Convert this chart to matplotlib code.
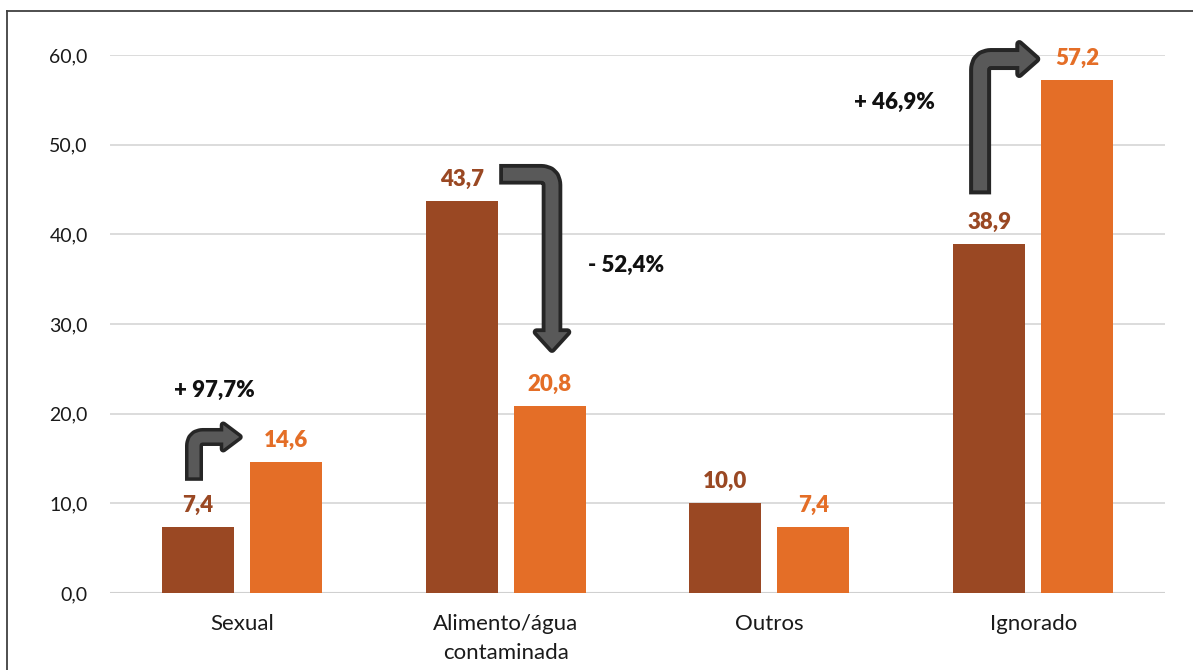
import numpy as np
import matplotlib
matplotlib.use("Agg")
import matplotlib.pyplot as plt
from matplotlib.path import Path
from matplotlib.patches import PathPatch, Polygon
from matplotlib.transforms import IdentityTransform
from matplotlib.lines import Line2D

plt.rcParams['font.family'] = ['Lato', 'DejaVu Sans']

categories = ["Sexual", "Alimento/água\ncontaminada", "Outros", "Ignorado"]
series_a = [7.4, 43.7, 10.0, 38.9]
series_b = [14.6, 20.8, 7.4, 57.2]
changes = ["+ 97,7%", "- 52,4%", "+ 0,0%", "+ 46,9%"]
yticks = [0, 10, 20, 30, 40, 50, 60]

C_A = "#9A4823"
C_B = "#E46E27"
DARK = "#262626"
GREY = "#595959"

W, H = 1193, 670
fig = plt.figure(figsize=(W / 100, H / 100), dpi=100)
ax = fig.add_axes([110 / W, 1 - 593 / H, 1055 / W, 538 / H])
ax.set_xlim(-0.5, 3.5)
ax.set_ylim(0, 60)

x = np.arange(len(categories))
bw = 0.273
off = 0.167
ax.bar(x - off, series_a, bw, color=C_A, zorder=3)
ax.bar(x + off, series_b, bw, color=C_B, zorder=3)

fmt = lambda v: f"{v:.1f}".replace(".", ",")
for xi, v in zip(x, series_a):
    ax.annotate(fmt(v), (xi - off, v), xytext=(0, 8), textcoords="offset points",
                ha="center", va="bottom", color=C_A, fontsize=16, fontweight="heavy")
for xi, v in zip(x, series_b):
    ax.annotate(fmt(v), (xi + off, v), xytext=(0, 8), textcoords="offset points",
                ha="center", va="bottom", color=C_B, fontsize=16, fontweight="heavy")

ax.set_yticks(yticks)
ax.set_yticklabels([fmt(t) for t in yticks], fontsize=14, color="#1a1a1a")
ax.set_xticks(x)
ax.set_xticklabels(categories, fontsize=16, color="#1a1a1a", linespacing=1.55)
ax.tick_params(axis="y", length=0, pad=16)
ax.tick_params(axis="x", length=0, pad=15)
ax.grid(axis="y", color="#d9d9d9", linewidth=1.3, zorder=0)
for s in ax.spines.values():
    s.set_visible(False)
ax.axhline(0, color="#d0d0d0", linewidth=1.5, zorder=2)


def bent_arrow(start, corner, tip, shaft, head_w, head_l, radius=10, outline=3.5):
    tr = ax.transData
    S, C, T = [np.array(tr.transform(p)) for p in (start, corner, tip)]
    d1 = (C - S) / np.linalg.norm(C - S)
    d2 = (T - C) / np.linalg.norm(T - C)
    E = T - d2 * head_l
    P1 = C - d1 * radius
    P2 = C + d2 * radius
    codes = [Path.MOVETO, Path.LINETO, Path.CURVE3, Path.CURVE3, Path.LINETO]
    p_dark = Path([S - d1 * outline, P1, C, P2, E + d2 * 1], codes)
    p_fill = Path([S, P1, C, P2, E + d2 * 2], codes)
    perp = np.array([-d2[1], d2[0]])
    head = [E + perp * head_w / 2, T, E - perp * head_w / 2]
    k = 72 / fig.dpi
    it = IdentityTransform()
    fig.add_artist(PathPatch(p_dark, fill=False, lw=(shaft + 2 * outline) * k, ec=DARK,
                             capstyle="butt", joinstyle="round", transform=it, zorder=5))
    fig.add_artist(Polygon(head, closed=True, fc=DARK, ec=DARK, lw=2 * outline * k,
                           joinstyle="round", transform=it, zorder=5))
    fig.add_artist(PathPatch(p_fill, fill=False, lw=shaft * k, ec=GREY,
                             capstyle="butt", joinstyle="round", transform=it, zorder=6))
    fig.add_artist(Polygon(head, closed=True, fc=GREY, ec="none", transform=it, zorder=6))


# Sexual: up then right
bent_arrow((-0.1815, 12.9), (-0.1815, 17.4), (-0.010, 17.4), shaft=11, head_w=24, head_l=16,
           radius=9, outline=3.5)
# Alimento: right then down
bent_arrow((0.990, 46.7), (1.1758, 46.7), (1.1758, 27.2), shaft=13, head_w=31, head_l=17,
           radius=11, outline=3.8)
# Ignorado: up then right
bent_arrow((2.799, 44.9), (2.799, 59.55), (3.012, 59.55), shaft=14, head_w=30, head_l=17,
           radius=11, outline=4)

tkw = dict(ha="center", va="center", fontsize=16, fontweight="heavy", color="#111111")
ax.text(-0.1057, 22.64, changes[0], **tkw)
ax.text(1.4564, 36.58, changes[1], **tkw)
ax.text(2.476, 54.76, changes[3], **tkw)

# frame (left and top edges)
fig.add_artist(Line2D([7.5 / W, 7.5 / W], [0, 1 - 11 / H], color="#404040", lw=1.3,
                      transform=fig.transFigure))
fig.add_artist(Line2D([7.5 / W, 1], [1 - 11 / H, 1 - 11 / H], color="#404040", lw=1.3,
                      transform=fig.transFigure))

fig.savefig("out.png", dpi=100, facecolor="white")
